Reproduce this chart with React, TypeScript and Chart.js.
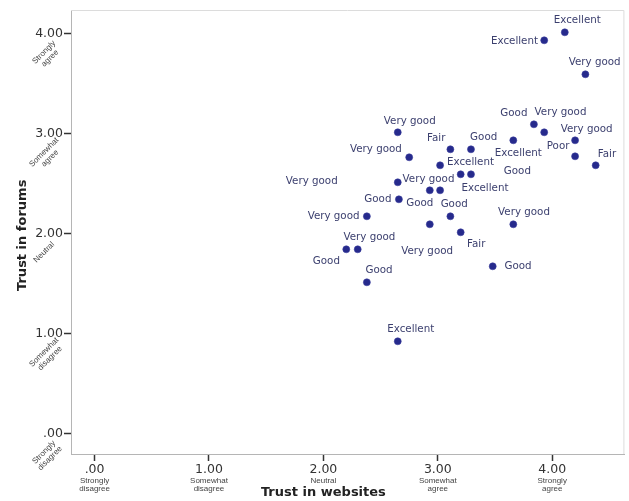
import React, { useEffect, useRef } from 'react';
import { Chart, registerables } from 'chart.js';

Chart.register(...registerables);

// Mean trust scores per respondent group
const trustWebsites = [4.11, 3.93, 4.29, 3.84, 3.93, 4.2, 4.2, 4.38, 3.66, 3.29, 3.11, 2.65, 2.75, 3.02, 3.2, 3.29, 2.65, 2.93, 3.02, 2.66, 3.11, 2.38, 2.93, 3.2, 2.2, 2.3, 2.38, 3.48, 3.66, 2.65];
const trustForums = [4.01, 3.93, 3.59, 3.09, 3.01, 2.93, 2.77, 2.68, 2.93, 2.84, 2.84, 3.01, 2.76, 2.68, 2.59, 2.59, 2.51, 2.43, 2.43, 2.34, 2.17, 2.17, 2.09, 2.01, 1.84, 1.84, 1.51, 1.67, 2.09, 0.92];
const ratings = ['Excellent', 'Excellent', 'Very good', 'Good', 'Very good', 'Very good', 'Poor', 'Fair', 'Excellent', 'Good', 'Fair', 'Very good', 'Very good', 'Excellent', 'Good', 'Excellent', 'Very good', 'Very good', 'Good', 'Good', 'Good', 'Very good', 'Very good', 'Fair', 'Good', 'Very good', 'Good', 'Good', 'Very good', 'Excellent'];

// Label placement relative to its point (px): [dx, dy]
const labelOffsets: [number, number][] = [
  [12.5, -11.6], [-29.7, 0.6], [9.3, -11.7], [-20, -11], [16.3, -20], [11.6, -11.4], [-17, -10], [11.3, -11.4],
  [5, 13], [12.7, -11.7], [-14.2, -11], [12, -11.3], [-33.3, -7.6], [30.4, -2.7], [56.7, -3], [14, 14.3],
  [-86, -1.3], [-1.3, -11.4], [-20.3, 12.6], [-21, 0], [3.8, -11.7], [-33.3, 0], [-2.7, 26.7], [15.5, 12],
  [-19.9, 11.7], [11.7, -11.6], [12.2, -11.7], [25.3, 0], [10.7, -11.7], [13, -11.7],
];

const tickValues = [0, 1, 2, 3, 4];
const scaleNotes = [['Strongly', 'disagree'], ['Somewhat', 'disagree'], ['Neutral'], ['Somewhat', 'agree'], ['Strongly', 'agree']];
const xTitle = 'Trust in websites';
const yTitle = 'Trust in forums';

const fmt = (v: number) => (v === 0 ? '.00' : v.toFixed(2));

const decor = {
  id: 'decor',
  beforeDatasetsDraw(chart: any) {
    const { ctx, chartArea } = chart;
    ctx.save();
    ctx.strokeStyle = '#dcdcdc';
    ctx.lineWidth = 1;
    ctx.beginPath();
    ctx.moveTo(chartArea.left, chartArea.top + 0.5);
    ctx.lineTo(chartArea.right - 0.5, chartArea.top + 0.5);
    ctx.lineTo(chartArea.right - 0.5, chartArea.bottom);
    ctx.stroke();
    ctx.restore();
  },
  afterDatasetsDraw(chart: any) {
    const { ctx, chartArea, scales } = chart;
    const meta = chart.getDatasetMeta(0);
    ctx.save();
    // point labels
    ctx.font = '10.3px "DejaVu Sans"';
    ctx.fillStyle = '#3b3f6e';
    ctx.textAlign = 'center';
    ctx.textBaseline = 'middle';
    meta.data.forEach((el: any, i: number) => {
      const [dx, dy] = labelOffsets[i];
      ctx.fillText(ratings[i], el.x + dx, el.y + dy);
    });
    // scale notes under x ticks
    ctx.font = '8px "Liberation Sans"';
    ctx.fillStyle = '#444';
    tickValues.forEach((v, i) => {
      const x = scales.x.getPixelForValue(v);
      scaleNotes[i].forEach((line, j) => {
        ctx.fillText(line, x, chartArea.bottom + 27 + j * 8);
      });
    });
    // rotated scale notes next to y ticks
    tickValues.forEach((v, i) => {
      const y = scales.y.getPixelForValue(v);
      ctx.save();
      ctx.translate(chartArea.left - 27, y + 19);
      ctx.rotate(-Math.PI / 4);
      scaleNotes[i].forEach((line, j) => {
        ctx.fillText(line, 0, j * 8.5);
      });
      ctx.restore();
    });
    // axis titles
    ctx.font = 'bold 13px "DejaVu Sans"';
    ctx.fillStyle = '#222';
    ctx.fillText(xTitle, scales.x.getPixelForValue(2), 493);
    ctx.save();
    ctx.translate(23, scales.y.getPixelForValue(2) + 2);
    ctx.rotate(-Math.PI / 2);
    ctx.fillText(yTitle, 0, 0);
    ctx.restore();
    ctx.restore();
  },
};

export default function App() {
  const ref = useRef<HTMLCanvasElement>(null);
  useEffect(() => {
    document.body.style.margin = '0';
    const chart = new Chart(ref.current as HTMLCanvasElement, {
      type: 'scatter',
      data: {
        datasets: [
          {
            data: trustWebsites.map((x, i) => ({ x, y: trustForums[i] })),
            backgroundColor: '#262a8c',
            borderColor: '#3a3e9c',
            borderWidth: 0.6,
            pointRadius: 3.5,
          },
        ],
      },
      options: {
        responsive: false,
        animation: false,
        devicePixelRatio: 1,
        layout: { padding: { left: 0, right: 3, top: 10, bottom: 0 } },
        plugins: { legend: { display: false }, tooltip: { enabled: false } },
        scales: {
          x: {
            type: 'linear',
            position: 'bottom',
            min: -0.206,
            max: 4.631,
            afterBuildTicks: (s: any) => {
              s.ticks = tickValues.map((value) => ({ value }));
            },
            afterFit: (s: any) => {
              s.height = 47;
            },
            ticks: {
              callback: (v: any) => fmt(Number(v)),
              font: { family: 'DejaVu Sans', size: 12.5 },
              color: '#333',
              padding: 1,
              maxRotation: 0,
              autoSkip: false,
            },
            grid: { drawOnChartArea: false, drawTicks: true, tickLength: 7, tickColor: '#333', tickWidth: 1.5 },
            border: { color: '#b5b5b5', width: 1 },
          },
          y: {
            type: 'linear',
            position: 'left',
            min: -0.207,
            max: 4.233,
            afterBuildTicks: (s: any) => {
              s.ticks = tickValues.map((value) => ({ value }));
            },
            afterFit: (s: any) => {
              s.width = 71;
            },
            ticks: {
              callback: (v: any) => fmt(Number(v)),
              font: { family: 'DejaVu Sans', size: 12.5 },
              color: '#333',
              padding: 1,
              autoSkip: false,
            },
            grid: { drawOnChartArea: false, drawTicks: true, tickLength: 7, tickColor: '#333', tickWidth: 1.5 },
            border: { color: '#b5b5b5', width: 1 },
          },
        },
      },
      plugins: [decor],
    });
    return () => chart.destroy();
  }, []);
  return (
    <div style={{ width: 629, height: 501, background: '#fff' }}>
      <canvas ref={ref} width={629} height={501} style={{ display: 'block' }} />
    </div>
  );
}
